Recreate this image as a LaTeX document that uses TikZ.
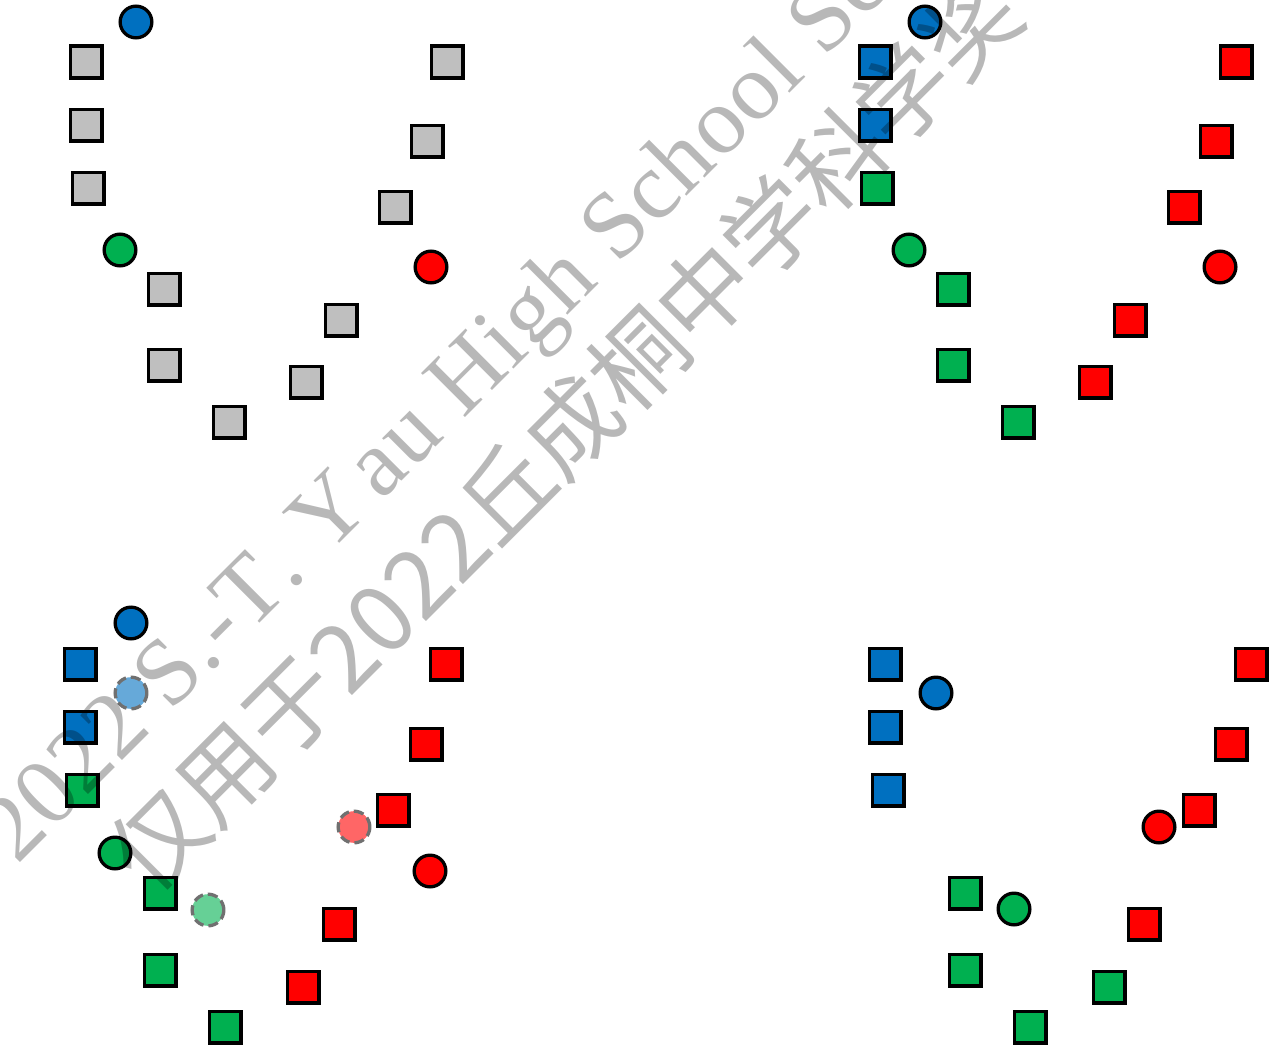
\documentclass[tikz,border=0pt]{standalone}
\usepackage{fontspec}
\newfontfamily\wmserif[Kerning=Off,LetterSpace=1.0]{Liberation Serif}
\newfontfamily\cjk{Noto Sans CJK SC}
\definecolor{cblue}{HTML}{0070C0}
\definecolor{cgreen}{HTML}{00B050}
\definecolor{cred}{HTML}{FF0000}
\definecolor{cgray}{HTML}{BFBFBF}
\definecolor{fblue}{HTML}{66A9D9}
\definecolor{fgreen}{HTML}{66D096}
\definecolor{fred}{HTML}{FF6666}
\definecolor{dashgray}{HTML}{707070}
\tikzset{
  shp/.style={draw=black, line width=3.3pt, inner sep=0pt, minimum size=31.7pt},
  sqb/.style={shp, rectangle, fill=cblue},
  sqg/.style={shp, rectangle, fill=cgreen},
  sqr/.style={shp, rectangle, fill=cred},
  sqy/.style={shp, rectangle, fill=cgray},
  cib/.style={shp, circle, fill=cblue},
  cig/.style={shp, circle, fill=cgreen},
  cir/.style={shp, circle, fill=cred},
  ghost/.style={shp, circle, draw=dashgray, dash pattern=on 10pt off 5pt},
  wm/.style={inner sep=0pt, text=black, text opacity=0.28, anchor=base west, rotate=45},
}
\begin{document}
\begin{tikzpicture}[x=1pt,y=-1pt]
\fill[white] (0,0) rectangle (1276,1049);
\useasboundingbox (0,0) rectangle (1276,1049);
% ---------- top left panel (gray)
\node[cib] (a0) at (136,22) {};
\node[sqy] (a1) at (86,62) {};
\node[sqy] (a2) at (86,125) {};
\node[sqy] (a3) at (88,188) {};
\node[cig] (a4) at (120,250) {};
\node[sqy] (a5) at (164,289) {};
\node[sqy] (a6) at (164,365) {};
\node[sqy] (a7) at (229,422) {};
\node[sqy] (a8) at (447,62) {};
\node[sqy] (a9) at (427,141) {};
\node[sqy] (a10) at (395,207) {};
\node[cir] (a11) at (431,267) {};
\node[sqy] (a12) at (341,320) {};
\node[sqy] (a13) at (306,382) {};
% ---------- top right panel
\node[cib] (b0) at (925,22) {};
\node[sqb] (b1) at (875,62) {};
\node[sqb] (b2) at (875,125) {};
\node[sqg] (b3) at (877,188) {};
\node[cig] (b4) at (909,250) {};
\node[sqg] (b5) at (953,289) {};
\node[sqg] (b6) at (953,365) {};
\node[sqg] (b7) at (1018,422) {};
\node[sqr] (b8) at (1236,62) {};
\node[sqr] (b9) at (1216,141) {};
\node[sqr] (b10) at (1184,207) {};
\node[cir] (b11) at (1220,267) {};
\node[sqr] (b12) at (1130,320) {};
\node[sqr] (b13) at (1095,382) {};
% ---------- bottom left panel
\node[cib] (c0) at (131,623) {};
\node[sqb] (c1) at (80,664) {};
\node[ghost, fill=fblue] (c2) at (131,693) {};
\node[sqb] (c3) at (80,727) {};
\node[sqg] (c4) at (82,790) {};
\node[cig] (c5) at (115,853) {};
\node[sqg] (c6) at (160,893) {};
\node[ghost, fill=fgreen] (c7) at (208,910) {};
\node[sqg] (c8) at (160,970) {};
\node[sqg] (c9) at (225,1027) {};
\node[sqr] (c10) at (446,664) {};
\node[sqr] (c11) at (426,744) {};
\node[sqr] (c12) at (393,810) {};
\node[ghost, fill=fred] (c13) at (354,827) {};
\node[cir] (c14) at (430,871) {};
\node[sqr] (c15) at (339,924) {};
\node[sqr] (c16) at (303,987) {};
% ---------- bottom right panel
\node[sqb] (d1) at (885,664) {};
\node[cib] (d0) at (936,693) {};
\node[sqb] (d2) at (885,727) {};
\node[sqb] (d3) at (888,790) {};
\node[sqg] (d4) at (965,893) {};
\node[cig] (d5) at (1014,909) {};
\node[sqg] (d6) at (965,970) {};
\node[sqg] (d7) at (1030,1027) {};
\node[sqr] (d8) at (1251,664) {};
\node[sqr] (d9) at (1231,744) {};
\node[sqr] (d10) at (1199,810) {};
\node[cir] (d11) at (1159,827) {};
\node[sqr] (d12) at (1144,924) {};
\node[sqg] (d13) at (1109,987) {};
% ---------- watermark
\begin{scope}
\clip (0,0) rectangle (1276,1049);
\node[wm, font=\wmserif\fontsize{95}{95}\selectfont] (w1) at (17,866) {2022 S.-T. Y\kern0.12em au High School Science Award};
\node[wm, font=\cjk\fontsize{94}{94}\selectfont] (w2) at (150,898) {仅用于2022丘成桐中学科学奖};
\end{scope}
\end{tikzpicture}
\end{document}
